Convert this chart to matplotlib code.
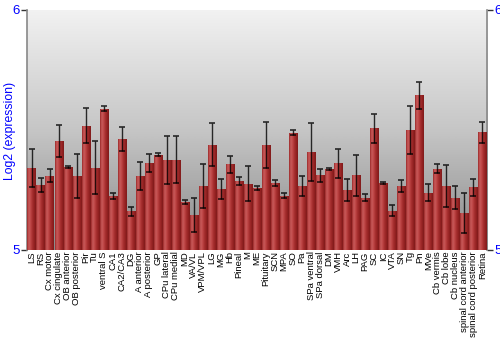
import numpy as np
import matplotlib
matplotlib.use("Agg")
import matplotlib.pyplot as plt
from matplotlib.colors import LinearSegmentedColormap

regions = ["LS", "RS", "Cx motor", "Cx cingulate", "OB anterior", "OB posterior", "Pir", "Tu",
           "ventral S", "CA1", "CA2/CA3", "DG", "A anterior", "A posterior", "GP", "CPu lateral",
           "CPu medial", "MD", "VA/VL", "VPM/VPL", "LG", "MG", "Hb", "Pineal", "M", "ME",
           "Pituitary", "SCN", "MPA", "SO", "Pa", "SPa ventral", "SPa dorsal", "DM", "VMH", "Arc",
           "LH", "PAG", "SC", "IC", "VTA", "SN", "Tg", "Pn", "MVe", "Cb vermis", "Cb lobe",
           "Cb nucleus", "spinal cord anterior", "spinal cord posterior", "Retina"]

expression = [5.340, 5.271, 5.308, 5.454, 5.345, 5.308, 5.517, 5.342,
              5.588, 5.224, 5.461, 5.160, 5.308, 5.363, 5.397, 5.375,
              5.375, 5.201, 5.146, 5.267, 5.438, 5.254, 5.357, 5.286, 5.276, 5.258,
              5.438, 5.279, 5.225, 5.488, 5.267, 5.408, 5.310, 5.336, 5.361, 5.250,
              5.311, 5.218, 5.506, 5.279, 5.163, 5.267, 5.501, 5.644, 5.238, 5.338, 5.267,
              5.218, 5.154, 5.260, 5.489]

errors = [0.080, 0.030, 0.027, 0.067, 0.003, 0.090, 0.072, 0.110,
          0.011, 0.014, 0.049, 0.020, 0.060, 0.038, 0.005, 0.100,
          0.098, 0.008, 0.070, 0.092, 0.090, 0.042, 0.035, 0.016, 0.074, 0.010,
          0.095, 0.012, 0.010, 0.010, 0.041, 0.120, 0.026, 0.005, 0.060, 0.047,
          0.085, 0.015, 0.059, 0.005, 0.023, 0.026, 0.100, 0.056, 0.035, 0.018, 0.087,
          0.047, 0.083, 0.034, 0.043]

y_ticks = [5, 6]

fig = plt.figure(figsize=(5.0, 3.5), dpi=100)
ax = fig.add_axes([0.054, 0.286, 0.92, 0.686])

x = np.arange(len(regions))
ymin, ymax = 5, 6
ax.set_xlim(-0.5, len(regions) - 0.5)
ax.set_ylim(ymin, ymax)

# background vertical gradient (light at top, darker at bottom)
bg = np.linspace(0, 1, 256).reshape(-1, 1)
bg_cmap = LinearSegmentedColormap.from_list("bg", ["#f2f2f2", "#c6c6c6", "#8a8a8a"])
ax.imshow(bg, cmap=bg_cmap, aspect="auto", extent=(-0.5, len(regions) - 0.5, ymin, ymax),
          origin="upper", zorder=0, interpolation="bilinear")

bars = ax.bar(x, np.array(expression) - ymin, bottom=ymin, width=0.9,
              color="#b03535", edgecolor="none", zorder=2)

bar_cmap = LinearSegmentedColormap.from_list(
    "bar", ["#9a2828", "#c85a5a", "#c04848", "#a83030", "#952222", "#7e1a1a"])
grad = np.linspace(0, 1, 64).reshape(1, -1)
for b in bars:
    x0, y0 = b.get_x(), b.get_y()
    w, h = b.get_width(), b.get_height()
    im = ax.imshow(grad, cmap=bar_cmap, aspect="auto", extent=(x0, x0 + w, y0, y0 + h),
                   zorder=3, interpolation="bilinear")
    im.set_clip_path(b)

ax.errorbar(x, expression, yerr=errors, fmt="none", ecolor="black", elinewidth=1.0,
            capsize=2.5, capthick=1.2, alpha=0.8, zorder=4)

ax.set_xlim(-0.5, len(regions) - 0.5)
ax.set_ylim(ymin, ymax)

ax.set_xticks(x)
ax.set_xticklabels(regions, rotation=90, fontsize=6.8, family="Liberation Sans")
ax.tick_params(axis="x", length=0, pad=1)

ax.set_yticks(y_ticks)
ax.set_yticklabels([str(t) for t in y_ticks], color="blue", fontsize=9.5, family="Liberation Sans")
ax.tick_params(axis="y", which="both", direction="out", length=4, width=1, color="#333333",
               labelleft=True, labelright=True, left=True, right=True, pad=1)
ax.set_ylabel("Log2 (expression)", color="blue", fontsize=8.8, family="Liberation Sans")
ax.yaxis.set_label_coords(-0.024, 0.496)

for s in ["top", "bottom"]:
    ax.spines[s].set_visible(False)
for s in ["left", "right"]:
    ax.spines[s].set_color("#888888")
    ax.spines[s].set_linewidth(1.2)

fig.savefig("out.png", dpi=100)
